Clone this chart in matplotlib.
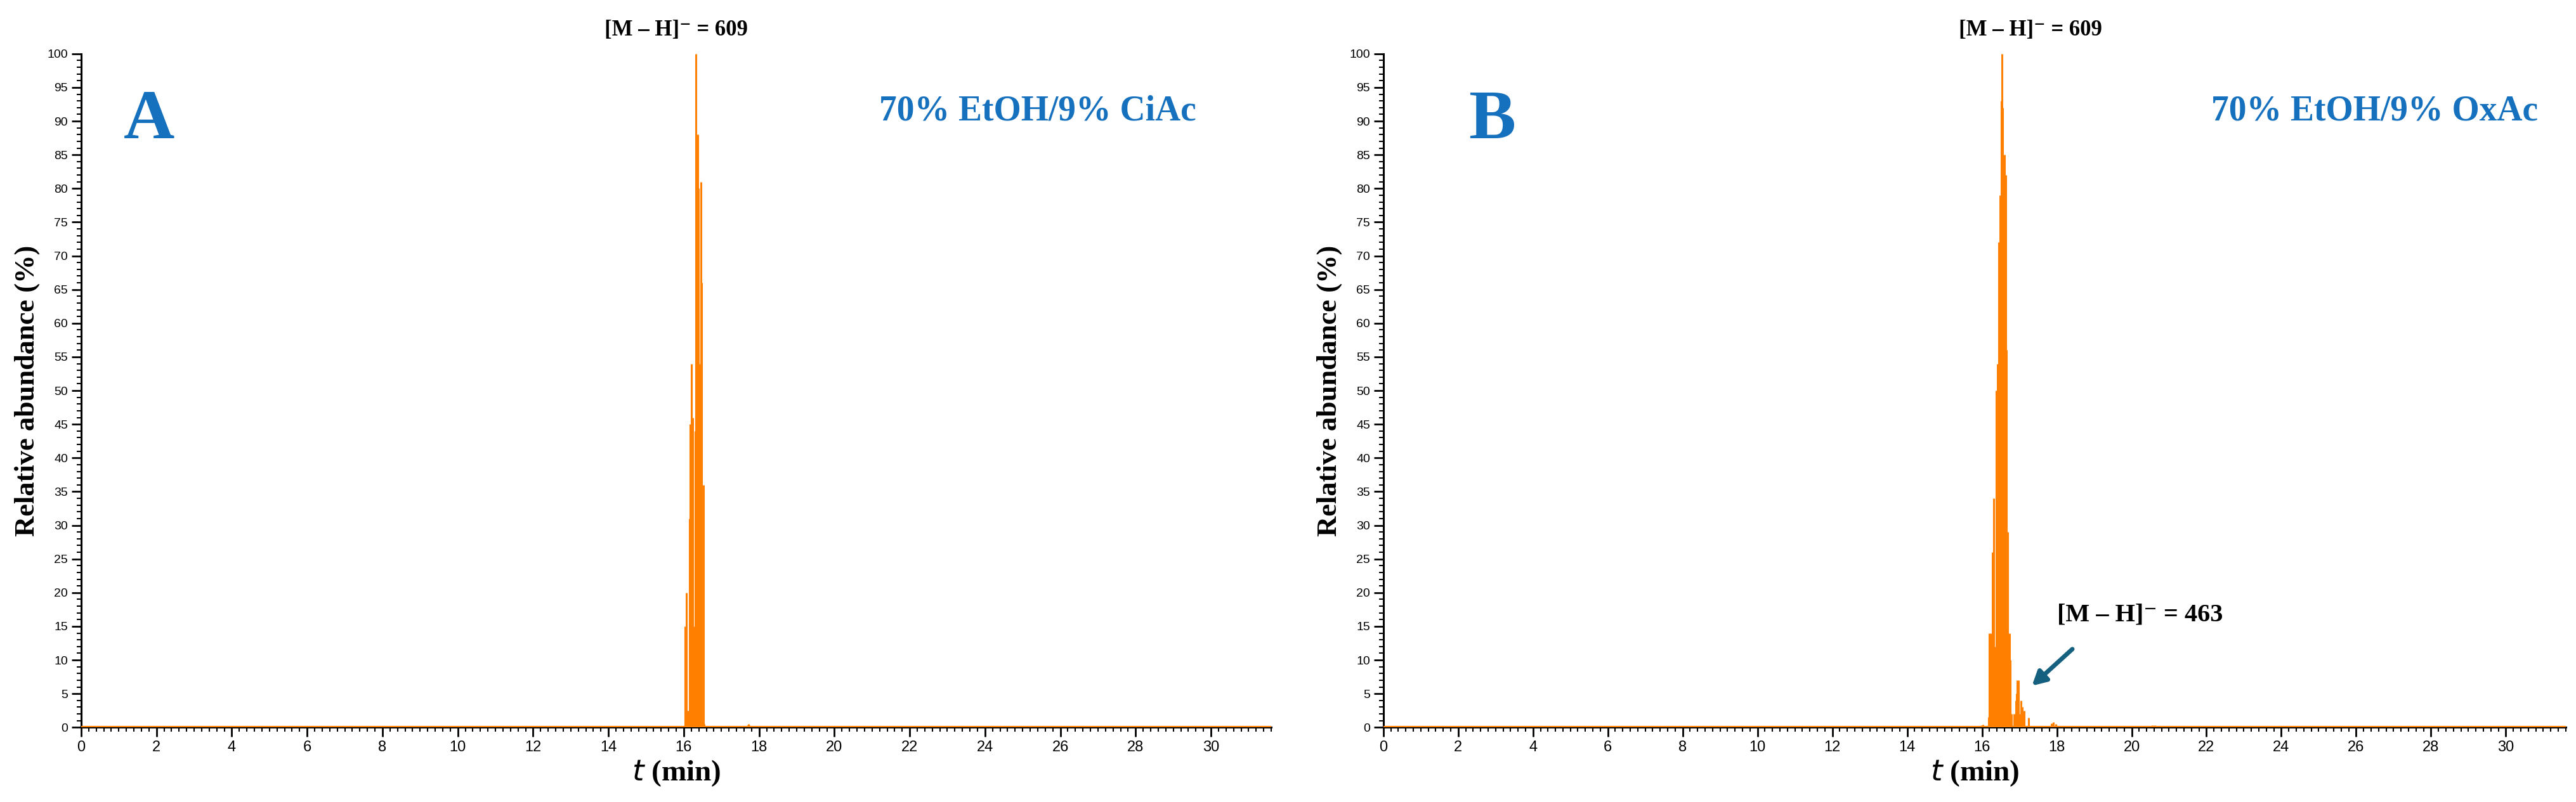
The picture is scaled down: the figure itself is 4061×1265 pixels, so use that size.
import matplotlib.pyplot as plt
from matplotlib.ticker import MultipleLocator

# ---- data ----
# panel A: [M-H]- = 609, 70% EtOH/9% CiAc
t_a = [16.04, 16.055, 16.065, 16.08, 16.10, 16.12, 16.15, 16.165, 16.18, 16.195, 16.21,
       16.23, 16.25, 16.265, 16.28, 16.30, 16.315, 16.33, 16.345, 16.35, 16.37, 16.38,
       16.39, 16.40, 16.41, 16.42, 16.43, 16.45, 16.46, 16.47, 16.49, 16.50, 16.52, 16.54,
       17.70, 17.72, 17.74]
i_a = [15, 3, 20, 2.5, 2, 2.5, 31, 45, 6, 6, 54,
       46, 10, 10, 15, 44, 3, 100, 3, 30, 88, 2,
       80, 2.5, 22, 9, 54, 81, 3, 66, 2, 4, 36, 0.5,
       0.3, 0.5, 0.3]

# panel B: [M-H]- = 609, 70% EtOH/9% OxAc
t_b = [15.99, 16.02, 16.17, 16.19, 16.205, 16.22, 16.25, 16.28, 16.30, 16.32, 16.35,
       16.38, 16.41, 16.43, 16.44, 16.47, 16.49, 16.51, 16.53, 16.55, 16.57, 16.58,
       16.60, 16.62, 16.63, 16.64, 16.66, 16.69, 16.71, 16.74, 16.76, 16.79, 16.85,
       16.90, 16.92, 16.94, 16.97, 17.00, 17.04, 17.07, 17.13, 17.24, 17.86, 17.90, 17.97,
       20.55, 20.62]
i_b = [0.3, 0.4, 1.5, 14, 5, 14, 4, 26, 8, 34, 12,
       50, 54, 15, 72, 48, 79, 93, 100, 92, 20, 68,
       85, 22, 82, 57, 56, 29, 5, 14, 10, 2, 2,
       4, 5, 7, 7, 2, 4, 3, 2.5, 1.4, 0.6, 0.8, 0.5,
       0.3, 0.3]

panels = [
    dict(t=t_a, i=i_a, letter="A", solvent="70% EtOH/9% CiAc",
         title_x=15.8, letter_x=1.8, solvent_x=25.4),
    dict(t=t_b, i=i_b, letter="B", solvent="70% EtOH/9% OxAc",
         title_x=17.3, letter_x=2.9, solvent_x=26.5),
]

ORANGE = "#ff8000"
BLUE = "#1570be"
SERIF = ["Liberation Serif", "DejaVu Serif"]
SANS = "Liberation Sans"

fig = plt.figure(figsize=(40.61, 12.65), dpi=100)
ax_a = fig.add_axes([0.0315, 0.093, 0.462, 0.84])
ax_b = fig.add_axes([0.537, 0.093, 0.459, 0.84])

for ax, p in zip([ax_a, ax_b], panels):
    ax.vlines(p["t"], 0, p["i"], color=ORANGE, lw=2.2)
    ax.axhline(0, color=ORANGE, lw=3, zorder=3)
    ax.set_xlim(0, 31.6)
    ax.set_ylim(0, 100)
    for s in ["top", "right"]:
        ax.spines[s].set_visible(False)
    for s in ["left", "bottom"]:
        ax.spines[s].set_linewidth(2.2)
    ax.xaxis.set_major_locator(MultipleLocator(2))
    ax.xaxis.set_minor_locator(MultipleLocator(0.2))
    ax.yaxis.set_major_locator(MultipleLocator(5))
    ax.yaxis.set_minor_locator(MultipleLocator(1))
    ax.tick_params(which="major", length=11, width=2, labelsize=17, pad=4)
    ax.tick_params(which="minor", length=5, width=1.5)
    ax.tick_params(axis="y", labelsize=14)
    for lab in ax.get_xticklabels() + ax.get_yticklabels():
        lab.set_family(SANS)

    ax.set_xlabel("$\\mathit{t}$ (min)", family=SERIF, fontsize=34, fontweight="bold")
    ax.set_ylabel("Relative abundance (%)", family=SERIF, fontsize=32,
                  fontweight="bold", labelpad=8)
    ax.text(p["title_x"], 102, "[M – H]⁻ = 609", family=SERIF, fontsize=25,
            fontweight="bold", ha="center", va="bottom", clip_on=False)
    ax.text(p["letter_x"], 90, p["letter"], family=SERIF, fontsize=80,
            fontweight="bold", color=BLUE, ha="center", va="center")
    ax.text(p["solvent_x"], 91.5, p["solvent"], family=SERIF, fontsize=40,
            fontweight="bold", color=BLUE, ha="center", va="center")

# annotation of the minor peak in B
ax_b.annotate("", xy=(17.3, 6), xytext=(18.45, 11.8),
              arrowprops=dict(arrowstyle="-|>,head_length=1.3,head_width=0.7",
                              color="#15607f", lw=5))
ax_b.text(18.0, 16.7, "[M – H]⁻ = 463", family=SERIF, fontsize=29,
          fontweight="bold", ha="left", va="center")

fig.savefig("out.png", dpi=100)
